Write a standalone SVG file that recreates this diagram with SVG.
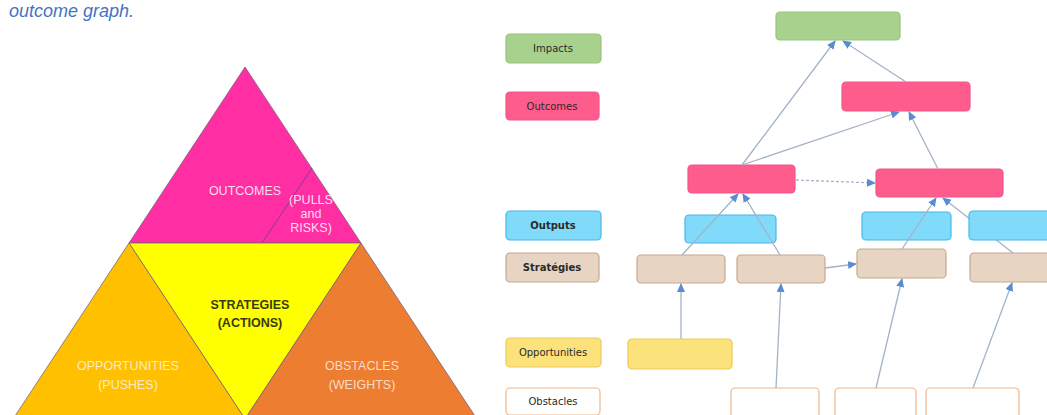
<svg xmlns="http://www.w3.org/2000/svg" width="1047" height="415" viewBox="0 0 1047 415">
  <style>
    .tri-edge { stroke: #6b5a7a; stroke-width: 1; stroke-opacity: 0.7; }
    .tri-label { font-family: "Liberation Sans", Arial, sans-serif; font-size: 12.5px; text-anchor: middle; }
    .legend-text { font-family: "DejaVu Sans", Verdana, sans-serif; font-size: 10px; fill: #2a2a2a; text-anchor: middle; }
    .box { stroke-width: 1.2; }
    .impact { fill: #A9D18E; stroke: #97C47C; }
    .outcome { fill: #FF5C8E; stroke: #F5538A; }
    .output { fill: #80DBFA; stroke: #48B6E8; }
    .strategy { fill: #E7D4C3; stroke: #C6A88F; }
    .opportunity { fill: #FBE27B; stroke: #E9CB57; }
    .obstacle { fill: #FFFFFF; stroke: #F0B58A; }
    .link { fill: none; stroke: #A3B3C9; stroke-width: 1.3; marker-end: url(#arrow); }
    .dashed { stroke-dasharray: 3 2; }
  </style>
  <defs>
    <marker id="arrow" markerUnits="userSpaceOnUse" markerWidth="9" markerHeight="8" refX="8" refY="4" orient="auto">
      <path d="M0,0 L9,4 L0,8 z" fill="#5B8BD0"/>
    </marker>
  </defs>

  <rect width="1047" height="415" fill="#FFFFFF"/>

  <!-- caption -->
  <text x="9" y="17" font-family="Liberation Sans, Arial, sans-serif" font-size="18" font-style="italic" fill="#4472C4">outcome graph.</text>

  <!-- pyramid -->
  <g id="pyramid">
    <polygon id="tri-outcomes" points="245,67 129,243 361,243" fill="#FF2FA3" class="tri-edge"/>
    <polygon id="tri-strategies" points="129,243 361,243 245,419" fill="#FFFF00" class="tri-edge"/>
    <polygon id="tri-opportunities" points="129,243 245,419 13,419" fill="#FFC000" class="tri-edge"/>
    <polygon id="tri-obstacles" points="361,243 477,419 245,419" fill="#ED7D31" class="tri-edge"/>
    <line x1="312" y1="168" x2="262" y2="243" stroke="#8a3aa0" stroke-width="1.2" stroke-opacity="0.8"/>

    <text class="tri-label" x="245" y="195" fill="#FBDDEC">OUTCOMES</text>
    <text class="tri-label" x="311" y="204" fill="#FBDDEC" font-size="8.5">(PULLS</text>
    <text class="tri-label" x="311" y="218" fill="#FBDDEC" font-size="8.5">and</text>
    <text class="tri-label" x="311" y="232" fill="#FBDDEC" font-size="8.5">RISKS)</text>

    <text class="tri-label" x="250" y="309" fill="#3A3A10" font-weight="bold" font-size="12">STRATEGIES</text>
    <text class="tri-label" x="250" y="327" fill="#3A3A10" font-weight="bold" font-size="12">(ACTIONS)</text>

    <text class="tri-label" x="128" y="370" fill="#FDEBC4">OPPORTUNITIES</text>
    <text class="tri-label" x="128" y="389" fill="#FDEBC4">(PUSHES)</text>

    <text class="tri-label" x="362" y="370" fill="#F9DCC6">OBSTACLES</text>
    <text class="tri-label" x="362" y="389" fill="#F9DCC6">(WEIGHTS)</text>
  </g>

  <!-- legend -->
  <g id="legend-impacts">
    <rect class="box impact" x="506" y="34" width="95" height="29" rx="4"/>
    <text class="legend-text" x="553" y="52">Impacts</text>
  </g>
  <g id="legend-outcomes">
    <rect class="box outcome" x="506" y="92" width="93" height="28" rx="4"/>
    <text class="legend-text" x="552" y="110">Outcomes</text>
  </g>
  <g id="legend-outputs">
    <rect class="box output" x="506" y="211" width="95" height="29" rx="4"/>
    <text class="legend-text" x="553" y="229" font-weight="bold" font-size="9.5">Outputs</text>
  </g>
  <g id="legend-strategies">
    <rect class="box strategy" x="506" y="253" width="93" height="29" rx="4"/>
    <text class="legend-text" x="552" y="271" font-weight="bold" font-size="9">Stratégies</text>
  </g>
  <g id="legend-opportunities">
    <rect class="box opportunity" x="506" y="338" width="95" height="29" rx="4"/>
    <text class="legend-text" x="553" y="356" fill="#3a3a10">Opportunities</text>
  </g>
  <g id="legend-obstacles">
    <rect class="box obstacle" x="506" y="388" width="94" height="27" rx="4"/>
    <text class="legend-text" x="553" y="405">Obstacles</text>
  </g>

  <!-- graph nodes -->
  <g id="impact-1"><rect class="box impact" x="776" y="12" width="124" height="28" rx="4"/></g>
  <g id="outcome-top"><rect class="box outcome" x="842" y="82" width="128" height="29" rx="4"/></g>
  <g id="outcome-left"><rect class="box outcome" x="688" y="165" width="107" height="28" rx="4"/></g>
  <g id="outcome-right"><rect class="box outcome" x="876" y="169" width="127" height="28" rx="4"/></g>
  <g id="output-1"><rect class="box output" x="685" y="215" width="91" height="28" rx="4"/></g>
  <g id="output-2"><rect class="box output" x="862" y="212" width="89" height="28" rx="4"/></g>
  <g id="strategy-1"><rect class="box strategy" x="637" y="255" width="88" height="28" rx="4"/></g>
  <g id="strategy-2"><rect class="box strategy" x="737" y="255" width="88" height="28" rx="4"/></g>
  <g id="strategy-3"><rect class="box strategy" x="857" y="249" width="89" height="29" rx="4"/></g>
  <g id="strategy-4"><rect class="box strategy" x="970" y="253" width="90" height="29" rx="4"/></g>
  <g id="opportunity-1"><rect class="box opportunity" x="628" y="339" width="104" height="30" rx="4"/></g>
  <g id="obstacle-1"><rect class="box obstacle" x="731" y="388" width="88" height="30" rx="4"/></g>
  <g id="obstacle-2"><rect class="box obstacle" x="835" y="388" width="81" height="30" rx="4"/></g>
  <g id="obstacle-3"><rect class="box obstacle" x="926" y="388" width="93" height="30" rx="4"/></g>

  <!-- connectors -->
  <g id="connectors">
    <line class="link" x1="742" y1="165" x2="835" y2="41"/>
    <line class="link" x1="906" y1="82" x2="843" y2="41"/>
    <line class="link" x1="742" y1="165" x2="899" y2="112"/>
    <line class="link" x1="938" y1="169" x2="909" y2="112"/>
    <line class="link dashed" x1="796" y1="180" x2="875" y2="183"/>
    <line class="link" x1="682" y1="255" x2="738" y2="194"/>
    <line class="link" x1="780" y1="255" x2="743" y2="194"/>
    <line class="link" x1="902" y1="249" x2="936" y2="198"/>
    <line class="link" x1="1013" y1="253" x2="943" y2="198"/>
    <line class="link" x1="825" y1="268" x2="856" y2="264"/>
    <line class="link" x1="681" y1="339" x2="681" y2="284"/>
    <line class="link" x1="776" y1="388" x2="781" y2="284"/>
    <line class="link" x1="876" y1="388" x2="902" y2="279"/>
    <line class="link" x1="973" y1="388" x2="1012" y2="283"/>
  </g>

  <!-- third output sits over the link that runs beneath it -->
  <g id="output-3"><rect class="box output" x="969" y="211" width="90" height="29" rx="4"/></g>
</svg>
